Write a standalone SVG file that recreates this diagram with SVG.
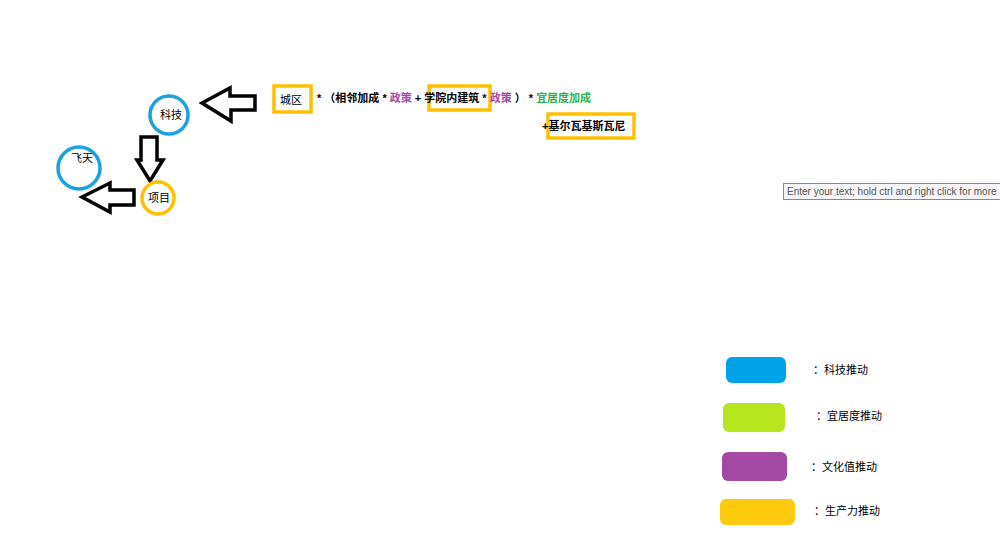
<svg xmlns="http://www.w3.org/2000/svg" width="1000" height="547" viewBox="0 0 1000 547">
<style>
text{font-family:"Liberation Sans","Noto Sans CJK SC",sans-serif;font-size:11px;fill:#000}
.b{font-weight:bold}
.p{fill:#a24aa3}
.g{fill:#2fb34a}
.circB{fill:#fff;stroke:#1ba1e2;stroke-width:3.5}
.circY{fill:#fff;stroke:#ffc000;stroke-width:3.5}
.box{fill:#fff;stroke:#ffc000;stroke-width:3.5}
.arr{fill:#fff;stroke:#000;stroke-width:3.5;stroke-linejoin:miter}
</style>
<rect width="1000" height="547" fill="#fff"/>
<g id="connectors">
<polygon class="arr" points="202,103 230,88 230,96 255,96 255,110 231,110 231,121"/>
<polygon class="arr" points="141,137 157,137 157,160 163,160 150,181 137,160 141,160"/>
<polygon class="arr" points="82,197 110,183 110,190 134,190 134,205 110,205 110,212"/>
</g>
<g id="keji"><circle class="circB" cx="169" cy="115" r="19"/><text x="171" y="119" text-anchor="middle">科技</text></g>
<g id="feitian"><circle class="circB" cx="79" cy="168" r="21"/><text x="82" y="162" text-anchor="middle">飞天</text></g>
<g id="xiangmu"><circle class="circY" cx="158" cy="198" r="16"/><text x="159" y="202" text-anchor="middle">项目</text></g>
<g id="chengqu"><rect class="box" x="274" y="86" width="37" height="26"/><text x="291" y="104" text-anchor="middle">城区</text></g>
<g id="xueyuan"><rect class="box" x="429" y="86" width="61" height="24"/></g>
<g id="jierwa"><rect class="box" x="548" y="114" width="86" height="24"/></g>
<g id="formula">
<text x="317" y="102" class="b">* （相邻加成 * <tspan class="p">政策</tspan> + 学院内建筑 * <tspan class="p">政策</tspan> ） * <tspan class="g">宜居度加成</tspan></text>
<text x="542" y="130" class="b">+基尔瓦基斯瓦尼</text>
</g>
<g id="tooltip"><rect x="783.5" y="183.5" width="220" height="16" fill="#f6f6f8" stroke="#888"/><text x="787" y="195" style="font-size:10px;fill:#555">Enter your text; hold ctrl and right click for more</text></g>
<g id="legend">
<rect x="726" y="357" width="60" height="26" rx="6" fill="#00a2e8"/><text x="813" y="374">：科技推动</text>
<rect x="723" y="403" width="62" height="29" rx="6" fill="#b5e61d"/><text x="816" y="420">：宜居度推动</text>
<rect x="722" y="452" width="65" height="29" rx="6" fill="#a349a4"/><text x="811" y="471">：文化值推动</text>
<rect x="720" y="499" width="75" height="26" rx="6" fill="#ffc90e"/><text x="814" y="515">：生产力推动</text>
</g>
</svg>
